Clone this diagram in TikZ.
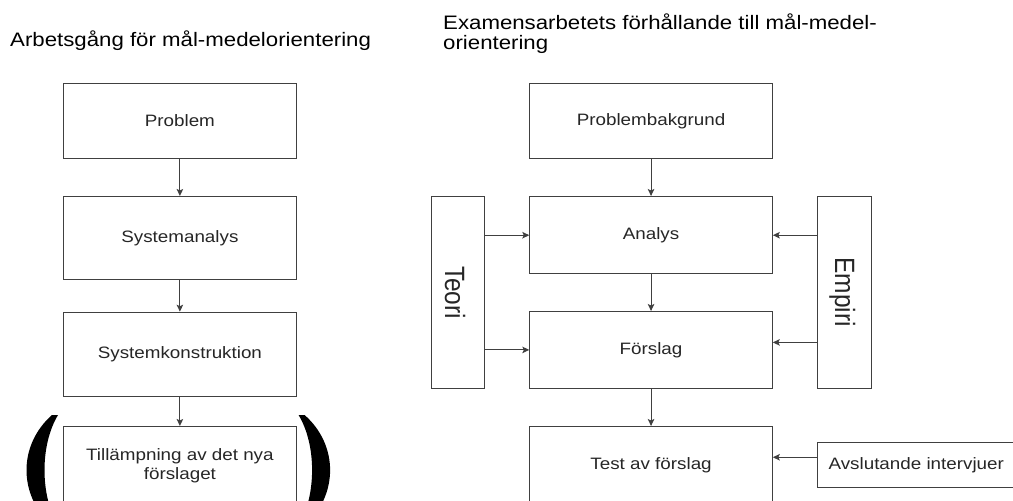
\documentclass[tikz,border=0pt]{standalone}
\usepackage{fontspec}
\setmainfont{Liberation Sans}
\usepackage{graphicx}
\usetikzlibrary{arrows.meta}

% wide, slightly stretched lettering
\newcommand\hwide[1]{\scalebox{1.14}[1]{#1}}
\newcommand\vwide[1]{\scalebox{1}[1.14]{#1}}
\newcommand\boxfont{\fontsize{16.5}{18.5}\selectfont}
\newcommand\titlefont{\fontsize{19.5}{20}\selectfont}
\newcommand\sidefont{\fontsize{24.5}{26}\selectfont}

\begin{document}
\begin{tikzpicture}[x=1pt,y=-1pt,
  box/.style={draw=black!75, line width=1.1pt, fill=white, inner sep=0pt,
    anchor=north west, align=center, font=\boxfont, text=black!85},
  flow/.style={draw=black!75, line width=1.1pt,
    -{Stealth[length=7pt,width=6.5pt,inset=1.5pt]}},
  heading/.style={anchor=base west, inner sep=0pt, font=\titlefont, align=left},
  sidelabel/.style={font=\sidefont, rotate=-90, inner sep=0pt, text=black!85},
  paren/.style={fill=black}]

\useasboundingbox (0,0) rectangle (1013,501);
\clip (0,0) rectangle (1013,501);

% ---- headings (base anchor sits on the last line) ----
\node[heading] (tleft) at (10,46) {\hwide{Arbetsgång för mål-medelorientering}};
\node[heading] (tright) at (443,49.5)
  {\hwide{Examensarbetets förhållande till mål-medel-}\\\hwide{orientering}};

% ---- left column ----
\node[box, minimum width=233.3, minimum height=75] (problem) at (62.7,82.7) {\hwide{Problem}};
\node[box, minimum width=233.3, minimum height=83] (sysana) at (62.7,196) {\hwide{Systemanalys}};
\node[box, minimum width=233.3, minimum height=84] (syskon) at (62.7,311.7) {\hwide{Systemkonstruktion}};
\node[box, minimum width=233.3, minimum height=78] (tillamp) at (62.7,426)
  {\hwide{Tillämpning av det nya}\\\hwide{förslaget}};

\draw[flow] (problem) -- (sysana);
\draw[flow] (sysana) -- (syskon);
\draw[flow] (syskon) -- (tillamp);

% brackets around the last step
\fill[paren] (52,415) .. controls (18,445) and (18,495) .. (52,526)
  -- (58,526) .. controls (40,495) and (40,445) .. (58,415) -- cycle;
\fill[paren] (304.6,415) .. controls (338.6,445) and (338.6,495) .. (304.6,526)
  -- (298.6,526) .. controls (316.6,495) and (316.6,445) .. (298.6,415) -- cycle;

% ---- right column ----
\node[box, minimum width=242.4, minimum height=75] (bakgrund) at (529.3,82.7) {\hwide{Problembakgrund}};
\node[box, minimum width=242.4, minimum height=77.3] (analys) at (529.3,196) {\hwide{Analys}};
\node[box, minimum width=242.4, minimum height=76.7] (forslag) at (529.3,311) {\hwide{Förslag}};
\node[box, minimum width=242.4, minimum height=77] (test) at (529.3,426) {\hwide{Test av förslag}};

\node[box, minimum width=53.6, minimum height=192] (teori) at (430.7,196) {};
\node[sidelabel] (teorilbl) at ([xshift=-3pt]teori.center) {\vwide{Teori}};
\node[box, minimum width=54, minimum height=191.5] (empiri) at (816.7,196) {};
\node[sidelabel] (empirilbl) at ([xshift=-2pt]empiri.center) {\vwide{Empiri}};

\node[box, minimum width=198, minimum height=45] (avsl) at (816.7,441.7) {\hwide{Avslutande intervjuer}};

\draw[flow] (bakgrund) -- (analys);
\draw[flow] (analys) -- (forslag);
\draw[flow] (forslag) -- (test);

\draw[flow] (teori.east |- analys.west) -- (analys.west);
\draw[flow] (teori.east |- forslag.west) -- (forslag.west);
\draw[flow] (empiri.west |- analys.east) -- (analys.east);
\draw[flow] ([yshift=7.5pt]empiri.west |- forslag.east) -- ([yshift=7.5pt]forslag.east);
\draw[flow] ([yshift=7.5pt]avsl.west) -- ([yshift=7.5pt]avsl.west -| test.east);

\end{tikzpicture}
\end{document}
